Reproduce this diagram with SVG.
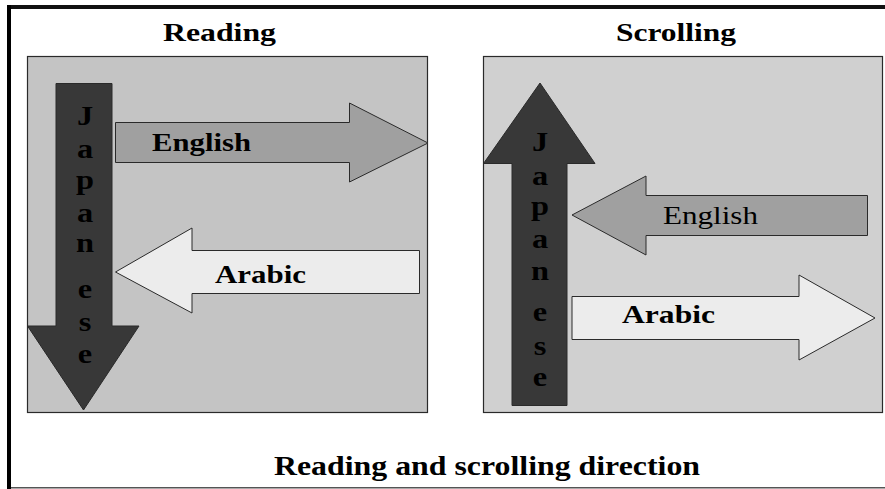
<svg xmlns="http://www.w3.org/2000/svg" width="885" height="489" viewBox="0 0 885 489">
  <style>
    .serif { font-family: "Liberation Serif", "Times New Roman", serif; fill: #000; }
    .b { font-weight: bold; }
    .panel { stroke: #2a2a2a; stroke-width: 1.2; }
    .arrow { stroke: #2a2a2a; stroke-width: 1; stroke-linejoin: miter; }
    .dark { fill: #383838; }
    .mid { fill: #a0a0a0; }
    .light { fill: #ececec; }
    .vert { font-size: 27px; text-anchor: middle; }
  </style>

  <rect width="885" height="489" fill="#ffffff"/>

  <!-- outer frame: heavy top and left rules, thin bottom rule -->
  <g id="frame">
    <rect x="7" y="5" width="878" height="4" fill="#111"/>
    <rect x="7" y="5" width="4" height="484" fill="#000"/>
    <rect x="11" y="487" width="874" height="1.5" fill="#555"/>
  </g>

  <!-- headings -->
  <text class="serif b" x="163" y="41" font-size="25" textLength="113" lengthAdjust="spacingAndGlyphs">Reading</text>
  <text class="serif b" x="616" y="41" font-size="25" textLength="120" lengthAdjust="spacingAndGlyphs">Scrolling</text>
  <text class="serif b" x="274" y="475" font-size="27" textLength="426" lengthAdjust="spacingAndGlyphs">Reading and scrolling direction</text>

  <!-- reading panel -->
  <g id="reading-panel">
    <rect class="panel" x="27.5" y="56.5" width="400" height="356" fill="#c4c4c4"/>
  </g>

  <!-- scrolling panel -->
  <g id="scrolling-panel">
    <rect class="panel" x="483.5" y="56.5" width="399" height="356" fill="#d0d0d0"/>
  </g>

  <!-- reading: English, left to right -->
  <g id="reading-english">
    <polygon class="arrow mid" points="115.5,122.5 349.5,122.5 349.5,103 428,143 349.5,182 349.5,162.5 115.5,162.5"/>
    <text class="serif b" x="152" y="151" font-size="26" textLength="99" lengthAdjust="spacingAndGlyphs">English</text>
  </g>

  <!-- reading: Arabic, right to left -->
  <g id="reading-arabic">
    <polygon class="arrow light" points="419.5,250.5 192,250.5 192,228 115.5,272 192,313 192,293.5 419.5,293.5"/>
    <text class="serif b" x="215" y="283" font-size="26" textLength="91" lengthAdjust="spacingAndGlyphs">Arabic</text>
  </g>

  <!-- reading: Japanese, top to bottom -->
  <g id="reading-japanese">
    <polygon class="arrow dark" points="56,83.5 112,83.5 112,326 139,326 83.5,410 27.5,326 56,326"/>
    <g class="serif b vert" transform="translate(85,0) scale(1.2,1)">
      <text x="0" y="125">J</text>
      <text x="0" y="158">a</text>
      <text x="0" y="189">p</text>
      <text x="0" y="222">a</text>
      <text x="0" y="252">n</text>
      <text x="0" y="298">e</text>
      <text x="0" y="331">s</text>
      <text x="0" y="363">e</text>
    </g>
  </g>

  <!-- scrolling: English, right to left -->
  <g id="scrolling-english">
    <polygon class="arrow mid" points="867.5,195.5 646,195.5 646,176 572,215 646,255 646,235.5 867.5,235.5"/>
    <text class="serif" x="663" y="224" font-size="26" textLength="95" lengthAdjust="spacingAndGlyphs">English</text>
  </g>

  <!-- scrolling: Arabic, left to right -->
  <g id="scrolling-arabic">
    <polygon class="arrow light" points="572,296.5 799,296.5 799,275 875,318 799,360 799,339.5 572,339.5"/>
    <text class="serif b" x="622" y="323" font-size="26" textLength="93" lengthAdjust="spacingAndGlyphs">Arabic</text>
  </g>

  <!-- scrolling: Japanese, bottom to top -->
  <g id="scrolling-japanese">
    <polygon class="arrow dark" points="512,405.5 567,405.5 567,163.5 595,163.5 540,83 483.5,163.5 512,163.5"/>
    <g class="serif b vert" transform="translate(540,0) scale(1.2,1)">
      <text x="0" y="151">J</text>
      <text x="0" y="185">a</text>
      <text x="0" y="215">p</text>
      <text x="0" y="248">a</text>
      <text x="0" y="280">n</text>
      <text x="0" y="321">e</text>
      <text x="0" y="355">s</text>
      <text x="0" y="386">e</text>
    </g>
  </g>
</svg>
